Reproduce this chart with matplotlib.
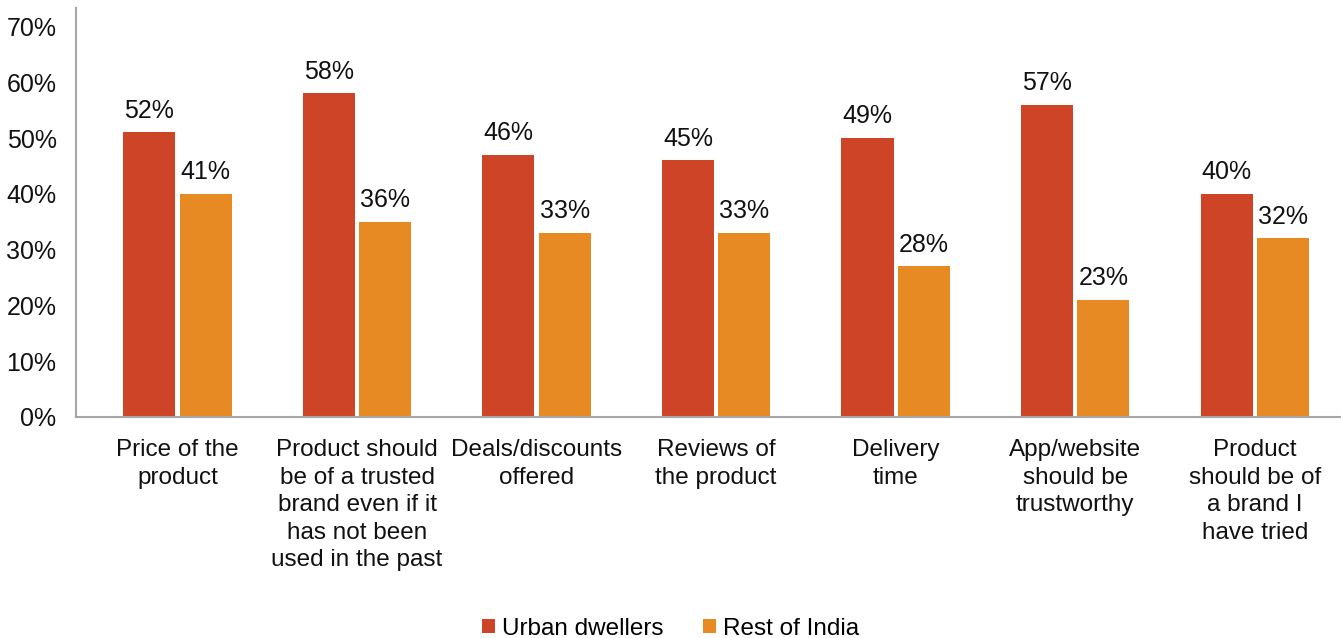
import matplotlib
matplotlib.use("Agg")
import matplotlib.pyplot as plt
import numpy as np

categories = [
    "Price of the\nproduct",
    "Product should\nbe of a trusted\nbrand even if it\nhas not been\nused in the past",
    "Deals/discounts\noffered",
    "Reviews of\nthe product",
    "Delivery\ntime",
    "App/website\nshould be\ntrustworthy",
    "Product\nshould be of\na brand I\nhave tried",
]
urban_values = [51, 58, 47, 46, 50, 56, 40]
rest_values = [40, 35, 33, 33, 27, 21, 32]
urban_labels = ["52%", "58%", "46%", "45%", "49%", "57%", "40%"]
rest_labels = ["41%", "36%", "33%", "33%", "28%", "23%", "32%"]
series_names = ["Urban dwellers", "Rest of India"]
yticks = [0, 10, 20, 30, 40, 50, 60, 70]

plt.rcParams['font.family'] = ['Liberation Sans', 'DejaVu Sans']

fig = plt.figure(figsize=(13.41, 6.38), dpi=100)
ax = fig.add_axes([76/1341, 1 - 417/638, 1 - 76/1341, (417 - 8)/638])

x = np.arange(len(categories))
w = 0.29
off = 0.157
c_urban = "#CD4427"
c_rest = "#E88A24"
b1 = ax.bar(x - off, urban_values, w, color=c_urban, label=series_names[0])
b2 = ax.bar(x + off, rest_values, w, color=c_rest, label=series_names[1])

for xi, v, lab in zip(x - off, urban_values, urban_labels):
    ax.annotate(lab, (xi, v), xytext=(0, 7), textcoords="offset points",
                ha="center", va="bottom", fontsize=18, color="#111111")
for xi, v, lab in zip(x + off, rest_values, rest_labels):
    ax.annotate(lab, (xi, v), xytext=(0, 7), textcoords="offset points",
                ha="center", va="bottom", fontsize=18, color="#111111")

ax.set_xlim(-0.565, 6.48)
ax.set_ylim(0, 73.3)
ax.set_yticks(yticks)
ax.set_yticklabels([f"{t}%" for t in yticks], fontsize=18, color="#111111")
ax.set_xticks(x)
ax.set_xticklabels(categories, fontsize=17.5, color="#111111", linespacing=1.32, va="top")
ax.tick_params(axis="both", length=0)
ax.tick_params(axis="y", pad=14)
ax.tick_params(axis="x", pad=16)
for s in ["top", "right"]:
    ax.spines[s].set_visible(False)
for s in ["left", "bottom"]:
    ax.spines[s].set_color("#A6A6A6")
    ax.spines[s].set_linewidth(1.5)

fig.legend(handles=[b1, b2], labels=series_names, loc="lower center",
           bbox_to_anchor=(0.5, -0.037), ncol=2, frameon=False, fontsize=17.5,
           handlelength=0.55, handleheight=0.55, handletextpad=0.3, columnspacing=1.6)

fig.savefig("out.png", dpi=100)
